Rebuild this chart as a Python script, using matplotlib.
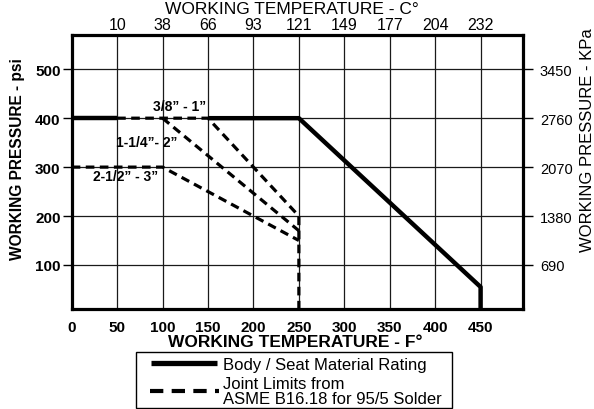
import matplotlib.pyplot as plt
from matplotlib.lines import Line2D
from matplotlib.patches import Rectangle

plt.rcParams['font.family'] = ['Liberation Sans', 'DejaVu Sans']

# axis ticks
temp_f_ticks = [0, 50, 100, 150, 200, 250, 300, 350, 400, 450]
temp_c_ticks = [50, 100, 150, 200, 250, 300, 350, 400, 450]
temp_c_labels = ['10', '38', '66', '93', '121', '149', '177', '204', '232']
psi_ticks = [100, 200, 300, 400, 500]
kpa_labels = ['690', '1380', '2070', '2760', '3450']

# body / seat material rating (solid), split where the joint line runs over it
body_f = [0, 50]
body_psi = [400, 400]
body2_f = [150, 250, 450, 450]
body2_psi = [400, 400, 55, 0]

# joint limits (dashed)
j1_f = [50, 150, 250, 250]
j1_psi = [400, 400, 200, 0]
j2_f = [100, 250]
j2_psi = [400, 170]
j3_f = [0, 100, 200, 250]
j3_psi = [300, 300, 200, 150]

size_labels = ['3/8\u201d - 1\u201d', '1-1/4\u201d- 2\u201d', '2-1/2\u201d - 3\u201d']
size_label_f = [119, 83, 59]
size_label_psi = [425, 352, 282]

W, H = 594, 410
fig = plt.figure(figsize=(W / 100, H / 100), dpi=100)
ax = fig.add_axes([71.7 / W, 1 - 310 / H, (523.3 - 71.7) / W, (310 - 36) / H])
ax.set_xlim(0, 497)
ax.set_ylim(10, 570)

ax.set_yticks(psi_ticks)
ax.set_yticklabels([str(v) for v in psi_ticks], fontweight='bold', fontsize=11)
ax.set_xticks(temp_f_ticks)
ax.set_xticklabels([str(v) for v in temp_f_ticks], fontweight='bold', fontsize=11)
ax.tick_params(axis='x', length=0, pad=8)
ax.tick_params(axis='y', length=6.5, width=1, pad=1.5, direction='out')
for x in temp_c_ticks:
    ax.axvline(x, color='0.1', lw=0.9, zorder=1)
for y in psi_ticks:
    ax.axhline(y, color='0.1', lw=0.9, zorder=1)
for s in ax.spines.values():
    s.set_linewidth(2.3)

dash = (0, (2.7, 1.7))
ax.plot(body_f, body_psi, color='black', lw=3.2, solid_capstyle='butt', zorder=3)
ax.plot(body2_f, body2_psi, color='black', lw=3.2, solid_capstyle='butt', zorder=3)
for xs, ys in [(j1_f, j1_psi), (j2_f, j2_psi), (j3_f, j3_psi)]:
    ax.plot(xs, ys, color='black', lw=2.3, linestyle=dash, zorder=4)

for lab, xf, yp in zip(size_labels, size_label_f, size_label_psi):
    ax.text(xf, yp, lab, ha='center', va='center', fontsize=10, fontweight='bold', zorder=5)

top = ax.secondary_xaxis('top')
top.set_xticks(temp_c_ticks, temp_c_labels)
top.tick_params(length=0, pad=2.5, labelsize=11.5)
top.spines['top'].set_visible(False)

right = ax.secondary_yaxis('right')
right.set_yticks(psi_ticks, kpa_labels)
right.tick_params(length=7, width=1, pad=5, labelsize=10.5)
right.spines['right'].set_visible(False)

fig.text(292 / W, 1 - 10 / H, 'WORKING TEMPERATURE - C\u00b0', ha='center', va='center', fontsize=12.5)
fig.text(295 / W, 1 - 343 / H, 'WORKING TEMPERATURE - F\u00b0', ha='center', va='center',
         fontsize=12.5, fontweight='bold')
fig.text(18 / W, 1 - 159 / H, 'WORKING PRESSURE - psi', ha='center', va='center',
         rotation=90, fontsize=11.2, fontweight='bold')
fig.text(588 / W, 1 - 140 / H, 'WORKING PRESSURE - KPa', ha='center', va='center',
         rotation=90, fontsize=12)

# legend box
fig.patches.append(Rectangle((136 / W, 1 - 409 / H), (452 - 136) / W, (409 - 353) / H,
                             transform=fig.transFigure, fill=False, edgecolor='black', lw=1))
fig.add_artist(Line2D([151 / W, 217 / W], [1 - 364 / H, 1 - 364 / H], transform=fig.transFigure,
                      color='black', lw=3.8, solid_capstyle='butt'))
fig.add_artist(Line2D([150 / W, 219 / W], [1 - 392 / H, 1 - 392 / H], transform=fig.transFigure,
                      color='black', lw=3, linestyle=(0, (3.2, 2))))
fig.text(223 / W, 1 - 366 / H, 'Body / Seat Material Rating', ha='left', va='center', fontsize=12)
fig.text(223 / W, 1 - 392 / H, 'Joint Limits from\nASME B16.18 for 95/5 Solder', ha='left',
         va='center', fontsize=12, linespacing=1.05)

fig.savefig('out.png', dpi=100)
